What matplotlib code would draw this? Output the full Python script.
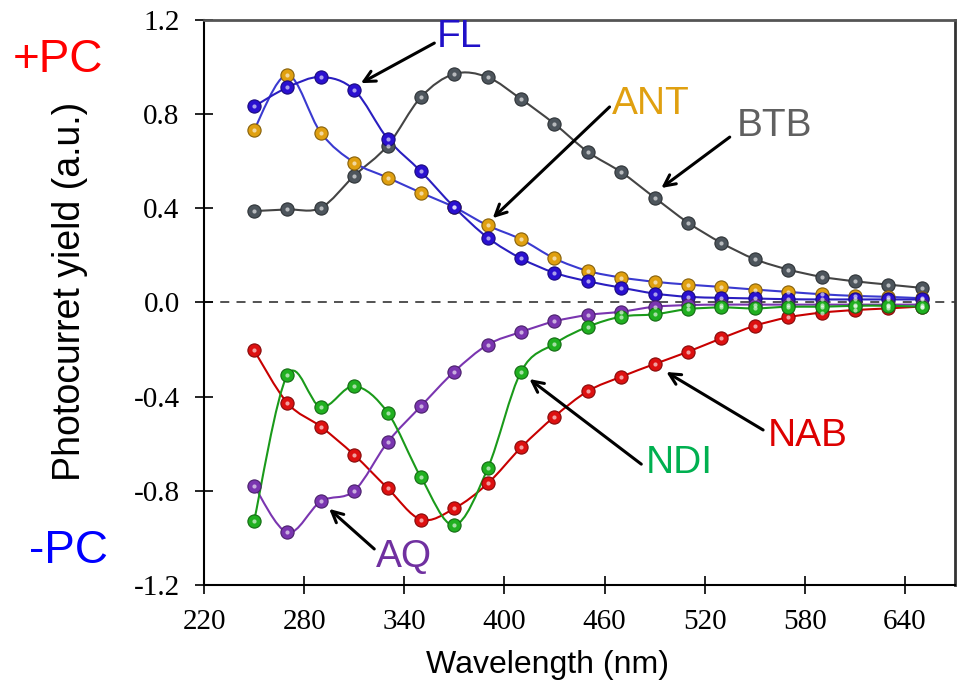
import numpy as np
import matplotlib.pyplot as plt
from matplotlib.colors import to_rgb
from matplotlib.path import Path
from matplotlib.patches import PathPatch

wavelength = list(range(250, 651, 20))

fl = [0.831, 0.912, 0.956, 0.901, 0.694, 0.555, 0.403, 0.274, 0.186, 0.125, 0.089,
      0.062, 0.037, 0.023, 0.019, 0.016, 0.013, 0.012, 0.012, 0.012, 0.012]
ant = [0.732, 0.965, 0.719, 0.593, 0.529, 0.465, 0.403, 0.326, 0.267, 0.186, 0.133,
       0.105, 0.087, 0.075, 0.065, 0.054, 0.044, 0.034, 0.027, 0.023, 0.017]
btb = [0.387, 0.394, 0.401, 0.537, 0.665, 0.871, 0.969, 0.955, 0.862, 0.757, 0.638,
       0.552, 0.444, 0.338, 0.252, 0.183, 0.139, 0.108, 0.089, 0.075, 0.061]
nab = [-0.204, -0.428, -0.528, -0.648, -0.789, -0.922, -0.875, -0.769, -0.616, -0.485, -0.377,
       -0.316, -0.262, -0.210, -0.153, -0.100, -0.064, -0.044, -0.033, -0.026, -0.018]
ndi = [-0.928, -0.308, -0.445, -0.356, -0.468, -0.743, -0.946, -0.705, -0.294, -0.176, -0.104,
       -0.061, -0.051, -0.029, -0.022, -0.026, -0.019, -0.019, -0.015, -0.015, -0.019]
aq = [-0.779, -0.977, -0.845, -0.800, -0.594, -0.441, -0.294, -0.180, -0.126, -0.081, -0.054,
      -0.040, -0.019, -0.012, -0.010, -0.010, -0.010, -0.010, -0.010, -0.010, -0.010]

# name, values, line colour, marker colour, label colour
series = [
    ("BTB", btb, "#444444", "#4d555c", "#606060"),
    ("ANT", ant, "#3a3ad0", "#e0a010", "#e0a010"),
    ("FL", fl, "#2a1ec0", "#2a10d0", "#2010c8"),
    ("NAB", nab, "#c80000", "#dd1010", "#dd0000"),
    ("AQ", aq, "#7a35b0", "#7a35b0", "#7030a0"),
    ("NDI", ndi, "#1a9a1a", "#20b020", "#00b050"),
]

# label text position, arrow tail, arrow head (data coords)
labels = {
    "FL": ((373, 1.126), (358, 1.10), (314, 0.93)),
    "ANT": ((488, 0.841), (463, 0.829), (393, 0.357)),
    "BTB": ((562, 0.748), (535, 0.701), (494, 0.485)),
    "NAB": ((582, -0.568), (555, -0.542), (497, -0.296)),
    "NDI": ((505, -0.682), (482, -0.687), (415, -0.326)),
    "AQ": ((340, -1.081), (322, -1.047), (295, -0.877)),
}


def smooth_path(x, y):
    # catmull-rom through the points, as cubic beziers
    p = np.column_stack([x, y]).astype(float)
    pts = [p[0]]
    codes = [Path.MOVETO]
    n = len(p)
    for i in range(n - 1):
        p0 = p[i - 1] if i > 0 else p[i]
        p1, p2 = p[i], p[i + 1]
        p3 = p[i + 2] if i + 2 < n else p[i + 1]
        pts += [p1 + (p2 - p0) / 6, p2 - (p3 - p1) / 6, p2]
        codes += [Path.CURVE4] * 3
    return Path(pts, codes)


fig = plt.figure(figsize=(9.61, 6.92), dpi=100)
ax = fig.add_axes([0.2123, 0.1546, 0.7815, 0.8172])

ax.axhline(0, color="#444444", lw=1.3, ls=(0, (5, 4)), zorder=1)

for name, vals, lc, mc, tc in series:
    ax.add_patch(PathPatch(smooth_path(wavelength, vals), fill=False, ec=lc, lw=1.5, zorder=2))
    ax.plot(wavelength, vals, ls="none", marker="o", ms=9.5, mfc=mc,
            mec=tuple(np.array(to_rgb(mc)) * 0.6), mew=0.8, zorder=3)
    ax.plot(wavelength, vals, ls="none", marker="o", ms=3, mfc="white", mec="none",
            alpha=0.6, zorder=4)
    (tx, ty), tail, head = labels[name]
    ax.text(tx, ty, name, color=tc, fontsize=28, family="Liberation Sans",
            ha="center", va="center", zorder=5)
    ax.annotate("", xy=head, xytext=tail,
                arrowprops=dict(arrowstyle="->,head_length=0.8,head_width=0.4",
                                color="black", lw=2.2, shrinkA=0, shrinkB=0))

ax.set_xlim(220, 670)
ax.set_ylim(-1.2, 1.2)
ax.set_xticks(range(220, 641, 60))
ax.set_yticks(np.arange(-1.2, 1.21, 0.4))
ax.set_yticklabels(["-1.2", "-0.8", "-0.4", "0.0", "0.4", "0.8", "1.2"])
ax.tick_params(direction="inout", length=13, width=1.2, labelsize=21, pad=11)
for lab in ax.get_xticklabels() + ax.get_yticklabels():
    lab.set_family("Liberation Serif")

for side in ["left", "bottom"]:
    ax.spines[side].set_linewidth(1.5)
    ax.spines[side].set_color("black")
ax.spines["top"].set_color("#555555")
ax.spines["top"].set_linewidth(2)
ax.spines["right"].set_color("#333333")
ax.spines["right"].set_linewidth(2)

ax.set_xlabel("Wavelength (nm)", fontsize=23, family="Liberation Sans")
ax.xaxis.set_label_coords(0.458, -0.115)
ax.set_ylabel("Photocurret yield (a.u.)", fontsize=27, family="Liberation Sans")
ax.yaxis.set_label_coords(-0.155, 0.52)

fig.text(0.0604, 0.913, "+PC", color="#ff0000", fontsize=33, family="Liberation Sans",
         ha="center", va="center")
fig.text(0.0718, 0.2037, "-PC", color="#0000ff", fontsize=33, family="Liberation Sans",
         ha="center", va="center")

fig.savefig("out.png", dpi=100)
